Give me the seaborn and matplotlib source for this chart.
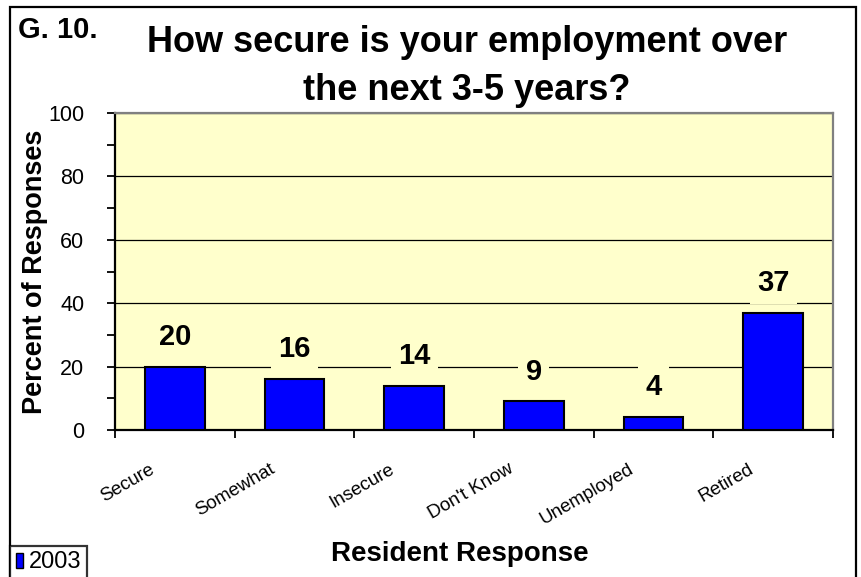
import matplotlib
matplotlib.use("Agg")
import matplotlib.pyplot as plt
import matplotlib.transforms as mtransforms
from matplotlib.patches import Rectangle, Patch
from matplotlib.ticker import MultipleLocator, FixedLocator
import seaborn as sns
import pandas as pd

# data
responses = ["Secure", "Somewhat", "Insecure", "Don't Know", "Unemployed", "Retired"]
percent_2003 = [20, 16, 14, 9, 4, 37]
year_label = "2003"

df = pd.DataFrame({"response": responses, "percent": percent_2003})

sns.set_style("white")
plt.rcParams['font.family'] = ['Liberation Sans', 'DejaVu Sans']
plt.rcParams['text.color'] = 'black'
plt.rcParams['axes.labelcolor'] = 'black'
plt.rcParams['xtick.color'] = 'black'
plt.rcParams['ytick.color'] = 'black'

fig = plt.figure(figsize=(8.61, 5.77), dpi=100)
W, H = 861, 577
ax = fig.add_axes([115 / W, 1 - 430 / H, (833 - 115) / W, (430 - 113) / H])
ax.set_facecolor("#FFFFCC")

sns.barplot(data=df, x="response", y="percent", color="#0000FF", saturation=1,
            width=0.5, edgecolor="black", linewidth=1.5, ax=ax, zorder=3)

ax.set_ylim(0, 100)
ax.set_xlim(-0.5, len(responses) - 0.5)
ax.yaxis.set_major_locator(MultipleLocator(20))
ax.yaxis.set_minor_locator(MultipleLocator(10))
ax.grid(axis="y", which="major", color="black", linewidth=0.9, zorder=1)
ax.set_axisbelow(True)

for side in ["left", "bottom"]:
    ax.spines[side].set_color("black")
    ax.spines[side].set_linewidth(1.6)
for side in ["top", "right"]:
    ax.spines[side].set_color("#808080")
    ax.spines[side].set_linewidth(1.6)

ax.tick_params(axis="y", which="both", direction="out", length=6, width=1.3,
               color="black", left=True, labelsize=15.5, pad=16)

# x ticks sit on category boundaries, labels under the centres
ax.xaxis.set_minor_locator(FixedLocator([i - 0.5 for i in range(len(responses) + 1)]))
ax.tick_params(axis="x", which="minor", direction="out", length=6, width=1.3,
               color="black", bottom=True)
ax.tick_params(axis="x", which="major", length=0, pad=22, labelsize=13.5)
shift = mtransforms.ScaledTranslation(-17 / 100, 0, fig.dpi_scale_trans)
for lab in ax.get_xticklabels():
    lab.set_rotation(30)
    lab.set_ha("right")
    lab.set_va("top")
    lab.set_transform(lab.get_transform() + shift)

ax.set_xlabel("")
ax.set_ylabel("")

# value labels with yellow box hiding gridlines
for i, v in enumerate(percent_2003):
    ax.annotate(str(v), xy=(i, v), xytext=(0, 21.5), textcoords="offset points",
                ha="center", va="center", fontsize=21, fontweight="bold",
                bbox=dict(boxstyle="square,pad=0.25", fc="#FFFFCC", ec="none"),
                zorder=4)

# titles and axis labels
fig.text(18 / W, 1 - 38 / H, "G. 10.", fontsize=21, fontweight="bold",
         ha="left", va="baseline")
fig.text(467 / W, 1 - 52 / H, "How secure is your employment over", fontsize=26,
         fontweight="bold", ha="center", va="baseline")
fig.text(467 / W, 1 - 100 / H, "the next 3-5 years?", fontsize=26,
         fontweight="bold", ha="center", va="baseline")
fig.text(35 / W, 1 - 272 / H, "Percent of Responses", rotation=90, fontsize=19.5,
         fontweight="bold", ha="center", va="center")
fig.text(460 / W, 1 - 554 / H, "Resident Response", fontsize=20,
         fontweight="bold", ha="center", va="center")

# border around the whole chart
fig.patches.append(Rectangle((10 / W, -0.01), (856 - 10) / W, 1 - 7 / H + 0.01,
                             transform=fig.transFigure, fill=False,
                             edgecolor="black", linewidth=1.6))

# legend box bottom left
handle = Patch(facecolor="#0000FF", edgecolor="black", linewidth=1)
leg = fig.legend([handle], [year_label], loc="lower left",
                 bbox_to_anchor=(10 / W, -0.004), fontsize=17, frameon=True,
                 fancybox=False, handlelength=0.3, handleheight=0.6,
                 handletextpad=0.25, borderpad=0.25, borderaxespad=0)
leg.get_frame().set_edgecolor("black")
leg.get_frame().set_linewidth(1.6)

fig.savefig("out.png", dpi=100)
